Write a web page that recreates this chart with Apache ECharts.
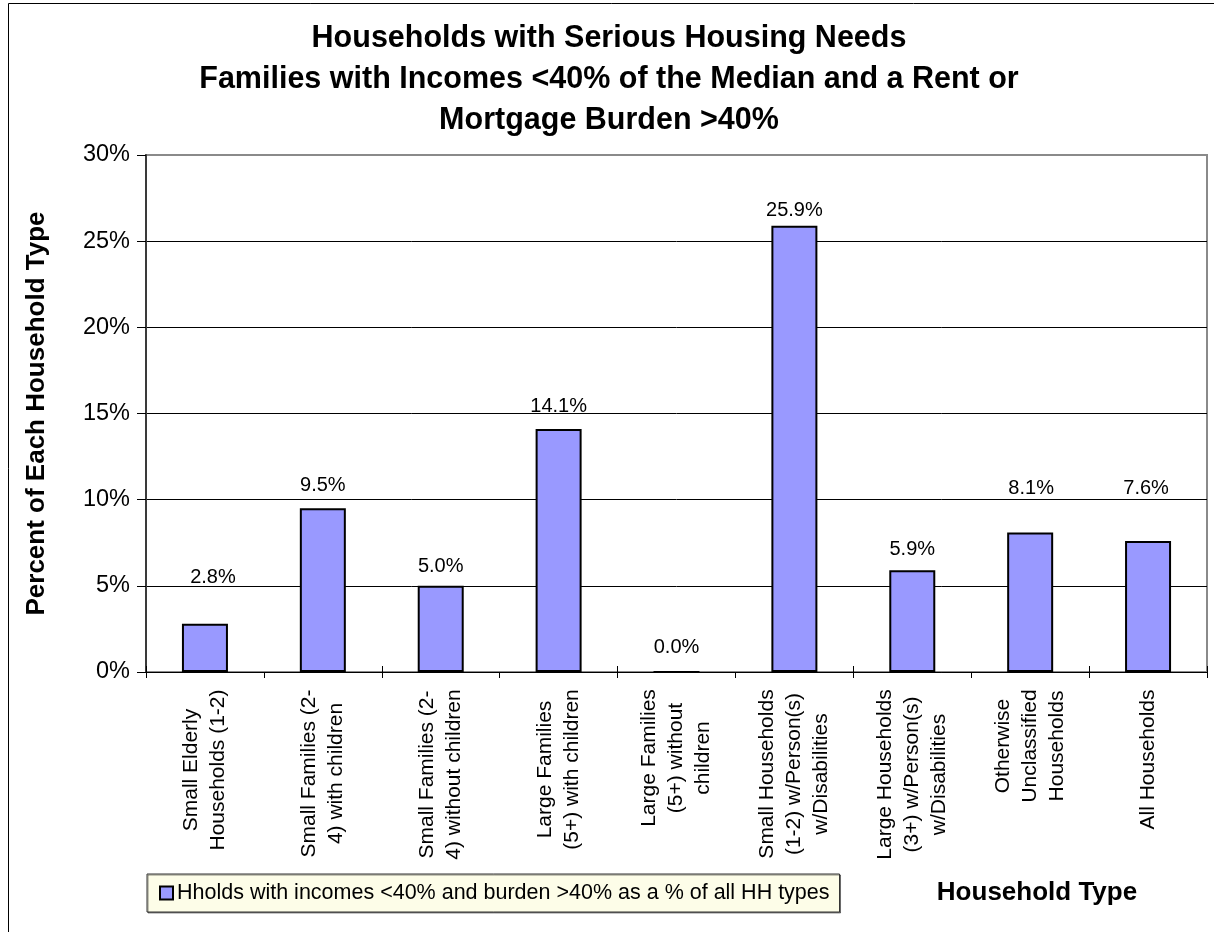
<!DOCTYPE html>
<html>
<head>
<meta charset="utf-8">
<title>Households with Serious Housing Needs</title>
<script src="https://cdn.jsdelivr.net/npm/echarts@6/dist/echarts.min.js"></script>
<style>
  html, body { margin: 0; padding: 0; background: #fff; }
  #chart { width: 1214px; height: 932px; }
</style>
</head>
<body>
<div id="chart"></div>
<script>
// Household types on the category axis (line breaks as printed)
const categories = [
  'Small Elderly\nHouseholds (1-2)',
  'Small Families (2-\n4) with children',
  'Small Families (2-\n4) without children',
  'Large Families\n(5+) with children',
  'Large Families\n(5+) without\nchildren',
  'Small Households\n(1-2) w/Person(s)\nw/Disabilities',
  'Large Households\n(3+) w/Person(s)\nw/Disabilities',
  'Otherwise\nUnclassified\nHouseholds',
  'All Households'
];

// Share of each household type with income <40% of median and burden >40%
const shareBurdened = [2.8, 9.5, 5.0, 14.1, 0.0, 25.9, 5.9, 8.1, 7.6];

const seriesName = 'Hholds with incomes <40% and burden >40% as a % of all HH types';

// Value axis range and step (percent)
const yMin = 0;
const yMax = 30;
const yStep = 5;

const FONT = '"Liberation Sans", Arial, Helvetica, sans-serif';

// Hand-placed value labels: [horizontal shift, height of label centre above the bar top]
const labelNudge = [[8, 46], [0, 23], [0, 19], [0, 23], [0, 24], [0, 15], [0, 21], [1, 44], [-2, 53]];

// Each category label block is as wide as its longest line, with lines centred inside it
const CAT_FONT_SIZE = 21;
const measureCtx = document.createElement('canvas').getContext('2d');
measureCtx.font = CAT_FONT_SIZE + 'px ' + FONT;
const catRich = {};
categories.forEach((c, i) => {
  const w = Math.max(...c.split('\n').map(l => measureCtx.measureText(l).width));
  catRich['c' + i] = {
    width: Math.ceil(w) + 2,
    align: 'center',
    fontSize: CAT_FONT_SIZE,
    lineHeight: 27,
    fontFamily: FONT,
    color: '#000'
  };
});

const chart = echarts.init(document.getElementById('chart'), null, { renderer: 'canvas' });

const option = {
  animation: false,
  backgroundColor: '#fff',
  textStyle: { fontFamily: FONT, color: '#000' },
  title: [
    {
      text: 'Households with Serious Housing Needs\nFamilies with Incomes <40% of the Median and a Rent or\nMortgage Burden >40%',
      left: 609,
      top: 18,
      textAlign: 'center',
      padding: 0,
      textStyle: {
        fontFamily: FONT,
        fontSize: 30.5,
        fontWeight: 'bold',
        lineHeight: 41,
        color: '#000'
      }
    },
    {
      text: 'Household Type',
      left: 1037,
      top: 893,
      textAlign: 'center',
      textVerticalAlign: 'middle',
      padding: 0,
      textStyle: {
        fontFamily: FONT,
        fontSize: 26,
        fontWeight: 'bold',
        color: '#000'
      }
    }
  ],
  legend: {
    data: [{ name: seriesName, icon: 'rect' }],
    left: 147,
    top: 874,
    orient: 'horizontal',
    itemWidth: 13,
    itemHeight: 13,
    padding: [8, 10, 8, 12],
    backgroundColor: '#FDFDE8',
    borderColor: '#333',
    borderWidth: 1,
    shadowColor: 'rgba(0,0,0,0.45)',
    shadowOffsetX: 1,
    shadowOffsetY: 1,
    shadowBlur: 0,
    selectedMode: false,
    itemStyle: { borderColor: '#000', borderWidth: 2 },
    textStyle: { fontFamily: FONT, fontSize: 21.5, color: '#000', padding: [0, 0, 0, -1] }
  },
  grid: {
    left: 146,
    top: 155,
    right: 7,
    bottom: 260,
    show: true,
    borderColor: '#8a8a8a',
    borderWidth: 2,
    backgroundColor: 'transparent'
  },
  xAxis: [
    {
      type: 'category',
      data: categories,
      boundaryGap: true,
      axisLine: { show: true, lineStyle: { color: '#000', width: 1 } },
      axisTick: { show: true, inside: false, length: 6, lineStyle: { color: '#000', width: 1 } },
      axisLabel: {
        interval: 0,
        rotate: 90,
        margin: 16,
        formatter: (value, idx) => value.split('\n').map(l => '{c' + idx + '|' + l + '}').join('\n'),
        rich: catRich
      },
      splitLine: { show: false }
    },
    {
      // inward half of the crossing tick marks on the category axis
      type: 'category',
      data: categories,
      position: 'bottom',
      boundaryGap: true,
      axisLine: { show: false },
      axisTick: { show: true, inside: true, length: 6, lineStyle: { color: '#000', width: 1 } },
      axisLabel: { show: false },
      splitLine: { show: false }
    }
  ],
  yAxis: {
    type: 'value',
    min: yMin,
    max: yMax,
    interval: yStep,
    name: 'Percent of Each Household Type',
    nameLocation: 'middle',
    nameGap: 96,
    nameRotate: 90,
    nameTextStyle: { fontFamily: FONT, fontSize: 26, fontWeight: 'bold', color: '#000' },
    axisLine: { show: true, lineStyle: { color: '#3a3a3a', width: 2 } },
    axisTick: { show: true, inside: false, length: 9, lineStyle: { color: '#000', width: 1 } },
    axisLabel: {
      margin: 16,
      fontFamily: FONT,
      fontSize: 23.5,
      color: '#000',
      formatter: '{value}%'
    },
    splitLine: {
      show: true,
      showMinLine: false,
      showMaxLine: false,
      lineStyle: { color: '#000', width: 1 }
    }
  },
  series: [
    {
      name: seriesName,
      type: 'bar',
      xAxisIndex: 0,
      barWidth: 46,
      data: shareBurdened.map((v, i) => ({
        value: v,
        label: {
          distance: labelNudge[i][1],
          offset: [labelNudge[i][0], 0]
        }
      })),
      itemStyle: {
        color: '#9999FF',
        borderColor: '#000',
        borderWidth: 2
      },
      label: {
        show: true,
        position: 'top',
        verticalAlign: 'middle',
        fontFamily: FONT,
        fontSize: 20,
        color: '#000',
        formatter: p => p.value.toFixed(1) + '%'
      }
    }
  ],
  graphic: [
    {
      // outer chart frame
      type: 'rect',
      silent: true,
      z: 100,
      shape: { x: 8.5, y: 3.5, width: 1300, height: 1000 },
      style: { fill: 'none', stroke: '#000', lineWidth: 1 }
    }
  ]
};

chart.setOption(option);
</script>
</body>
</html>
